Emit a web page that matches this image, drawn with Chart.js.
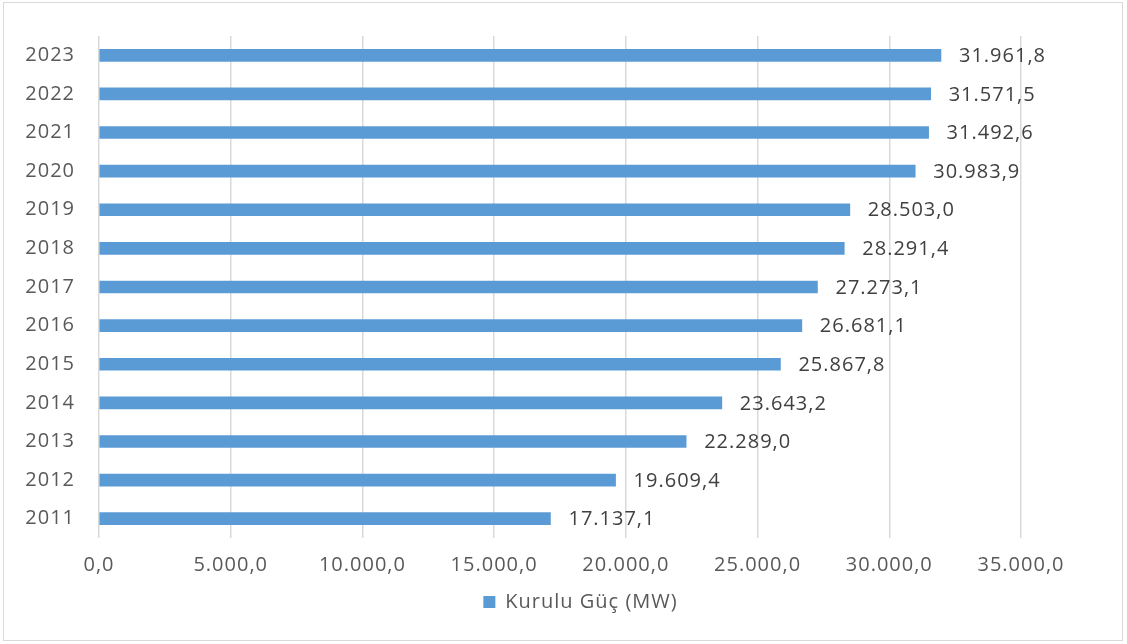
<!DOCTYPE html>
<html>
<head>
<meta charset="utf-8">
<script src="https://cdn.jsdelivr.net/npm/chart.js@4/dist/chart.umd.min.js"></script>
<style>
html,body{margin:0;padding:0;background:#fff;}
#wrap{position:absolute;left:0;top:0;width:1127px;height:644px;}
</style>
</head>
<body>
<div id="wrap"><canvas id="c" width="1127" height="644"></canvas></div>
<script>
const years = ['2011','2012','2013','2014','2015','2016','2017','2018','2019','2020','2021','2022','2023'];
const capacity = [17137.1, 19609.4, 22289.0, 23643.2, 25867.8, 26681.1, 27273.1, 28291.4, 28503.0, 30983.9, 31492.6, 31571.5, 31961.8];
const seriesName = 'Kurulu Güç (MW)';
const xTicks = [0, 5000, 10000, 15000, 20000, 25000, 30000, 35000];

const FONT = '"Open Sans", "DejaVu Sans", sans-serif';
const fmt = v => v.toLocaleString('de-DE', {minimumFractionDigits: 1, maximumFractionDigits: 1});

const spacing = {
  id: 'spacing',
  beforeInit(chart) { chart.ctx.letterSpacing = '1px'; },
  beforeLayout(chart) { chart.ctx.letterSpacing = '1px'; },
  beforeDraw(chart) { chart.ctx.letterSpacing = '1px'; }
};

// legend sits a little right of the plot centre in the original
const legendShift = {
  id: 'legendShift',
  afterLayout(chart) {
    const l = chart.legend;
    if (l) { l.left += 70; l.right += 70; l.top -= 4; l.bottom -= 4; }
  }
};

const frame = {
  id: 'frame',
  beforeDraw(chart) {
    const ctx = chart.ctx;
    ctx.save();
    ctx.fillStyle = '#fff';
    ctx.fillRect(0, 0, chart.width, chart.height);
    ctx.strokeStyle = '#d9d9d9';
    ctx.lineWidth = 1;
    ctx.strokeRect(3.5, 2.5, 1119, 638);
    ctx.restore();
  }
};

const labels = {
  id: 'valueLabels',
  afterDatasetsDraw(chart) {
    const ctx = chart.ctx;
    const meta = chart.getDatasetMeta(0);
    ctx.save();
    ctx.font = '20px ' + FONT;
    ctx.fillStyle = '#404040';
    ctx.textBaseline = 'middle';
    ctx.textAlign = 'left';
    meta.data.forEach((bar, i) => {
      ctx.fillText(fmt(capacity[i]), bar.x + 18, bar.y + 1);
    });
    ctx.restore();
  }
};

new Chart(document.getElementById('c'), {
  type: 'bar',
  data: {
    labels: years,
    datasets: [{
      label: seriesName,
      data: capacity,
      backgroundColor: '#5b9bd5',
      borderWidth: 0,
      barThickness: 12
    }]
  },
  plugins: [spacing, legendShift, frame, labels],
  options: {
    indexAxis: 'y',
    responsive: false,
    animation: false,
    devicePixelRatio: 1,
    layout: { padding: { left: 0, right: 106, top: 35, bottom: 18 } },
    plugins: {
      legend: {
        position: 'bottom',
        labels: {
          font: { family: FONT, size: 20 },
          color: '#595959',
          boxWidth: 12,
          boxHeight: 12,
          padding: 4
        }
      },
      tooltip: { enabled: false }
    },
    scales: {
      x: {
        min: 0,
        max: 35000,
        afterBuildTicks: s => { s.ticks = xTicks.map(v => ({ value: v })); },
        ticks: {
          callback: v => fmt(v),
          font: { family: FONT, size: 20 },
          color: '#595959',
          padding: 15,
          maxRotation: 0
        },
        grid: { color: '#d9d9d9', drawTicks: false, lineWidth: 1.5 },
        border: { display: false }
      },
      y: {
        reverse: true,
        afterFit: s => { s.width = 99; },
        ticks: {
          font: { family: FONT, size: 20 },
          color: '#595959',
          padding: 24
        },
        grid: { display: false, drawTicks: false },
        border: { display: false }
      }
    }
  }
});
</script>
</body>
</html>
